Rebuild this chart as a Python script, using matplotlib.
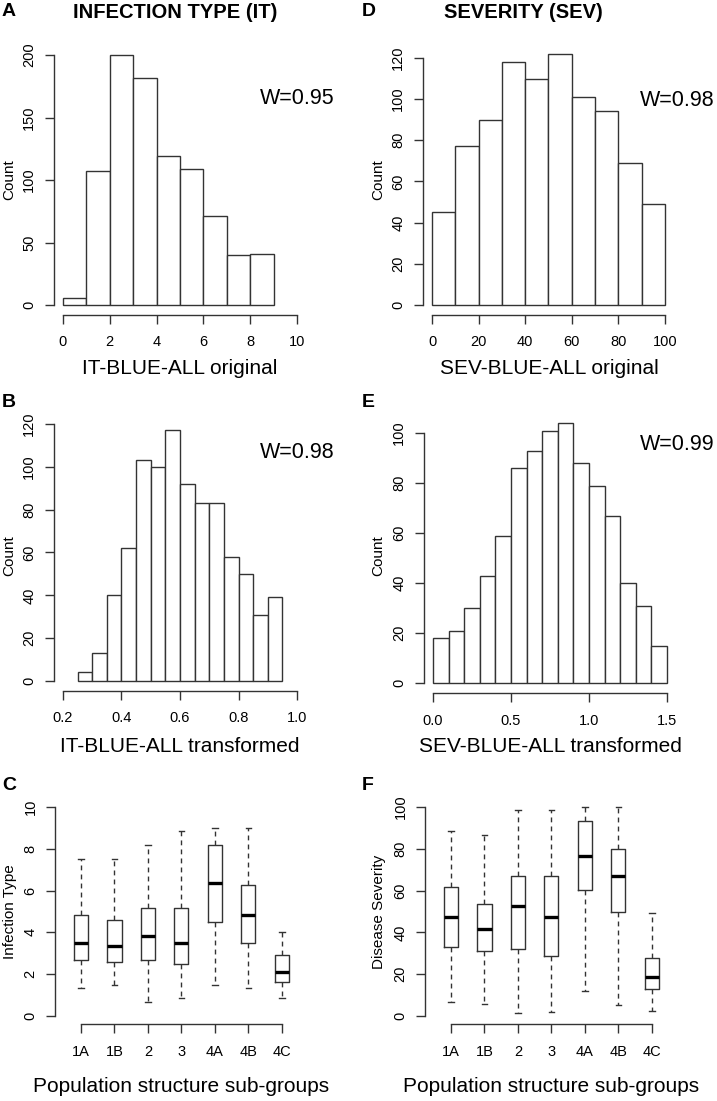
import matplotlib
matplotlib.use("Agg")
import matplotlib.pyplot as plt
import numpy as np

plt.rcParams['font.family'] = ['Liberation Sans', 'DejaVu Sans']

# ---------------- data ----------------
it_orig_edges = [0, 1, 2, 3, 4, 5, 6, 7, 8, 9]
it_orig_counts = [6, 107, 200, 182, 119, 109, 71, 40, 41]

sev_orig_edges = [0, 10, 20, 30, 40, 50, 60, 70, 80, 90, 100]
sev_orig_counts = [45, 77, 90, 118, 110, 122, 101, 94, 69, 49]

it_tr_edges = [0.25, 0.30, 0.35, 0.40, 0.45, 0.50, 0.55, 0.60, 0.65, 0.70,
               0.75, 0.80, 0.85, 0.90, 0.95]
it_tr_counts = [4, 13, 40, 62, 103, 100, 117, 92, 83, 83, 58, 50, 31, 39]

sev_tr_edges = [0.0, 0.1, 0.2, 0.3, 0.4, 0.5, 0.6, 0.7, 0.8, 0.9, 1.0,
                1.1, 1.2, 1.3, 1.4, 1.5]
sev_tr_counts = [18, 21, 30, 43, 59, 86, 93, 101, 104, 88, 79, 67, 40, 31, 15]

groups = ['1A', '1B', '2', '3', '4A', '4B', '4C']
it_whislo = [1.34, 1.49, 0.65, 0.85, 1.49, 1.34, 0.85]
it_q1 = [2.68, 2.57, 2.68, 2.49, 4.52, 3.48, 1.65]
it_med = [3.51, 3.35, 3.85, 3.51, 6.36, 4.84, 2.09]
it_q3 = [4.84, 4.58, 5.16, 5.16, 8.18, 6.26, 2.91]
it_whishi = [7.5, 7.5, 8.18, 8.83, 9.0, 9.0, 4.03]

sev_whislo = [6.7, 5.6, 1.3, 1.9, 12.0, 5.3, 2.6]
sev_q1 = [33.2, 31.0, 32.3, 28.6, 60.1, 50.0, 12.9]
sev_med = [47.6, 41.4, 52.7, 47.6, 76.5, 66.9, 18.5]
sev_q3 = [61.7, 53.8, 66.8, 66.8, 93.5, 80.0, 27.8]
sev_whishi = [88.3, 86.7, 98.6, 98.6, 100.0, 100.0, 49.5]

W_values = ['W=0.95', 'W=0.98', 'W=0.98', 'W=0.99']

# ---------------- layout helpers ----------------
FW, FH = 717, 1101
fig = plt.figure(figsize=(FW / 100, FH / 100), dpi=100)
EC = '#333333'
TICK_FS = 10.5


def px(x, y):
    return x / FW, 1 - y / FH


def make_ax(L, R, T, B, xlim, ylo, yhi, xticks, yticks, xticklabels=None):
    ax = fig.add_axes([L / FW, 1 - B / FH, (R - L) / FW, (B - T) / FH])
    ext = 0.04 * (yhi - ylo)
    ax.set_xlim(*xlim)
    ax.set_ylim(ylo - ext, yhi + ext)
    for s in ['top', 'right']:
        ax.spines[s].set_visible(False)
    for s in ['left', 'bottom']:
        ax.spines[s].set_color(EC)
        ax.spines[s].set_linewidth(1.0)
    ax.spines['left'].set_bounds(yticks[0], yticks[-1])
    ax.spines['bottom'].set_bounds(xticks[0], xticks[-1])
    ax.set_xticks(xticks)
    if xticklabels is not None:
        ax.set_xticklabels(xticklabels)
    ax.set_yticks(yticks)
    ax.tick_params(axis='both', length=6.5, width=1.0, color=EC,
                   labelsize=TICK_FS)
    ax.tick_params(axis='x', pad=8)
    ax.tick_params(axis='y', pad=6)
    for lab in ax.get_yticklabels():
        lab.set_rotation(90)
        lab.set_va('center')
    ax.patch.set_alpha(0)
    return ax


def hist(ax, edges, counts):
    widths = np.diff(edges)
    ax.bar(edges[:-1], counts, width=widths, align='edge', color='white',
           edgecolor=EC, linewidth=1.0)


def box(ax, lo, q1, med, q3, hi):
    stats = []
    for i in range(len(groups)):
        stats.append(dict(whislo=lo[i], q1=q1[i], med=med[i], q3=q3[i],
                          whishi=hi[i], fliers=[]))
    ax.bxp(stats, positions=np.arange(1, len(groups) + 1), widths=0.42,
           showfliers=False, manage_ticks=False,
           boxprops=dict(color=EC, linewidth=1.0),
           whiskerprops=dict(color=EC, linewidth=1.0, linestyle=(0, (3.5, 3))),
           capprops=dict(color=EC, linewidth=1.0),
           medianprops=dict(color='black', linewidth=2.4),
           capwidths=0.16)


# Panel A
axA = make_ax(53.6, 306.4, 45, 315, (-0.4, 10.4), 0, 200,
              [0, 2, 4, 6, 8, 10], [0, 50, 100, 150, 200])
hist(axA, np.array(it_orig_edges, float), it_orig_counts)

# Panel D
axD = make_ax(422.7, 674.3, 43.8, 315, (-4, 104), 0, 122,
              [0, 20, 40, 60, 80, 100], [0, 20, 40, 60, 80, 100, 120])
hist(axD, np.array(sev_orig_edges, float), sev_orig_counts)

# Panel B
axB = make_ax(53.6, 306.4, 420.4, 691, (0.168, 1.032), 0, 117,
              [0.2, 0.4, 0.6, 0.8, 1.0], [0, 20, 40, 60, 80, 100, 120])
axB.set_xticklabels(['0.2', '0.4', '0.6', '0.8', '1.0'])
hist(axB, np.array(it_tr_edges, float), it_tr_counts)

# Panel E
axE = make_ax(423.6, 676.4, 412.6, 693.4, (-0.06, 1.56), 0, 104,
              [0.0, 0.5, 1.0, 1.5], [0, 20, 40, 60, 80, 100])
axE.set_xticklabels(['0.0', '0.5', '1.0', '1.5'])
hist(axE, np.array(sev_tr_edges, float), sev_tr_counts)

# Panel C
axC = make_ax(54.9, 308, 798.6, 1024.4, (0.22, 7.78), 0, 10,
              list(range(1, 8)), [0, 2, 4, 6, 8, 10], xticklabels=groups)
box(axC, it_whislo, it_q1, it_med, it_q3, it_whishi)

# Panel F
axF = make_ax(424.9, 678, 798.6, 1024.4, (0.22, 7.78), 0, 100,
              list(range(1, 8)), [0, 20, 40, 60, 80, 100], xticklabels=groups)
box(axF, sev_whislo, sev_q1, sev_med, sev_q3, sev_whishi)

# ---------------- text ----------------
def ftext(x, y, s, **kw):
    fig.text(*px(x, y), s, **kw)

# panel letters & titles
for (x, y, s) in [(2, 12, 'A'), (362, 12, 'D'), (2, 402, 'B'), (362, 402, 'E'),
                  (2, 786, 'C'), (362, 786, 'F')]:
    ftext(x, y, s, fontsize=14, fontweight='bold', ha='left', va='center')
ftext(175, 12, 'INFECTION TYPE (IT)', fontsize=14.5, fontweight='bold',
      ha='center', va='center')
ftext(523, 12, 'SEVERITY (SEV)', fontsize=14.5, fontweight='bold',
      ha='center', va='center')

# W statistics
for (x, y, s) in [(297, 98, W_values[0]), (677, 100, W_values[1]),
                  (297, 453, W_values[2]), (677, 445, W_values[3])]:
    ftext(x, y, s, fontsize=15.5, ha='center', va='center')

# x labels
ftext(180, 368, 'IT-BLUE-ALL original', fontsize=15, ha='center', va='center')
ftext(549, 368, 'SEV-BLUE-ALL original', fontsize=15, ha='center', va='center')
ftext(180, 747, 'IT-BLUE-ALL transformed', fontsize=15, ha='center', va='center')
ftext(550, 747, 'SEV-BLUE-ALL transformed', fontsize=15, ha='center', va='center')
ftext(181, 1087, 'Population structure sub-groups', fontsize=15, ha='center', va='center')
ftext(551, 1087, 'Population structure sub-groups', fontsize=15, ha='center', va='center')

# y labels
ftext(9, 180, 'Count', fontsize=11, rotation=90, ha='center', va='center')
ftext(378, 180, 'Count', fontsize=11, rotation=90, ha='center', va='center')
ftext(9, 556, 'Count', fontsize=11, rotation=90, ha='center', va='center')
ftext(378, 556, 'Count', fontsize=11, rotation=90, ha='center', va='center')
ftext(10, 912, 'Infection Type', fontsize=11, rotation=90, ha='center', va='center')
ftext(379, 912, 'Disease Severity', fontsize=11, rotation=90, ha='center', va='center')

fig.savefig('out.png', dpi=100, facecolor='white')
